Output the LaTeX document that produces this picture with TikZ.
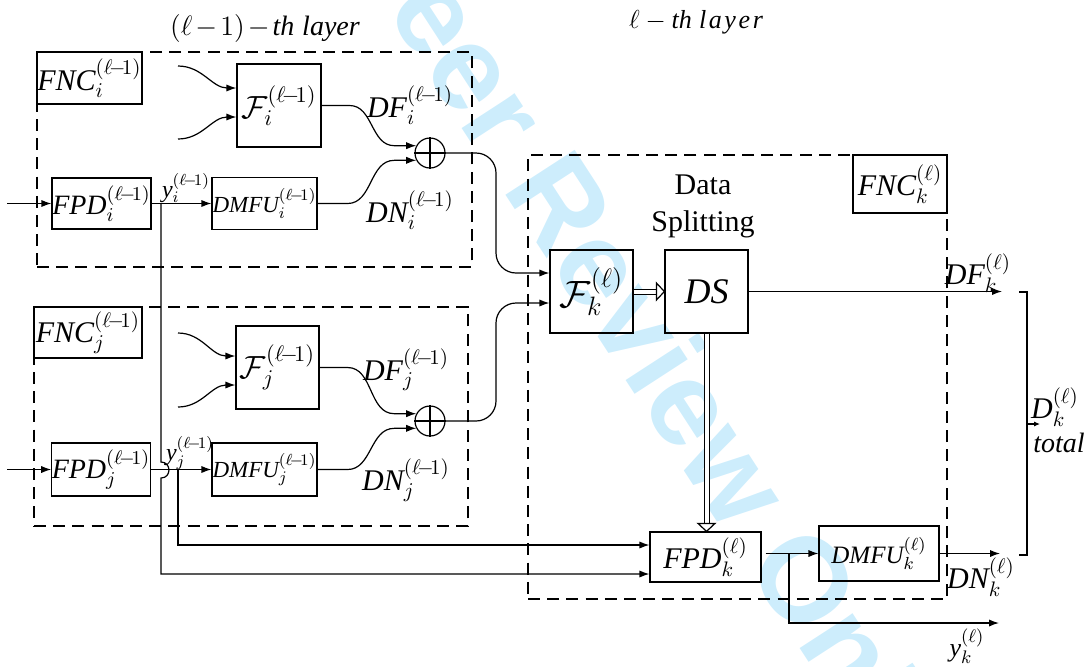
\RequirePackage{fix-cm}
\documentclass[tikz,border=0pt]{standalone}
\usepackage{fontspec}
\setmainfont{Liberation Serif}
\setsansfont{Liberation Sans}
\usetikzlibrary{arrows.meta,calc}
\definecolor{wm}{RGB}{205,237,252}
\newcommand\fsz[1]{\fontsize{#1}{#1}\selectfont}
\newcommand\lmo{(\ell\mkern-3mu-\mkern-3mu1)}
\begin{document}
\begin{tikzpicture}[x=0.5pt,y=-0.5pt,
  blk/.style={draw, line width=0.6pt, inner sep=0pt},
  lay/.style={draw, line width=1pt, dash pattern=on 6pt off 3.6pt, inner sep=0pt},
  fnc/.style={draw, line width=1.1pt, inner sep=0pt, fill=white, font=\fsz{15}},
  wire/.style={line width=0.6pt},
  arw/.style={wire, -{Latex[length=5pt,width=3.6pt]}},
  dbl/.style={line width=0.5pt, double, double distance=2pt},
  opl/.style={circle, draw, line width=0.6pt, minimum size=15pt, inner sep=0pt},
  lab/.style={inner sep=0pt, font=\fsz{15}}]
\useasboundingbox (0,0) rectangle (1091,666);
% watermark
\node[rotate=-57, text=wm, font=\sffamily\bfseries\fsz{60}] (wmark) at (642,348) {Peer Review Only};
% layer frames
\node[lay, minimum width=217.5pt, minimum height=107.5pt] (layI) at (254.5,159.5) {};
\node[lay, minimum width=217pt, minimum height=109.5pt] (layJ) at (251,416.5) {};
\node[lay, minimum width=209.5pt, minimum height=222pt] (layK) at (737.5,377) {};
\node[fnc, minimum width=52.5pt, minimum height=26pt] (fncI) at (89.5,78) {$\mathit{FNC}_i^{\lmo}$};
\node[fnc, minimum width=54pt, minimum height=25.5pt] (fncJ) at (88,332.5) {$\mathit{FNC}_j^{\lmo}$};
\node[fnc, minimum width=47pt, minimum height=29pt] (fncK) at (900,184) {$\mathit{FNC}_k^{(\ell)}$};
% blocks layer i
\node[blk, minimum width=42pt, minimum height=41.5pt, font=\fsz{16}] (FI) at (279,105.5) {$\mathcal{F}_i^{\lmo}$};
\node[blk, minimum width=49.5pt, minimum height=25.5pt, font=\fsz{14}] (FPDI) at (101.5,203.5) {$\mathit{FPD}_i^{\lmo}$};
\node[blk, minimum width=52.5pt, minimum height=26pt, font=\fsz{11.5}] (DMFUI) at (264.5,203.5) {$\mathit{DMFU}_i^{\lmo}$};
\node[opl] (oplusI) at (430,153) {};
% blocks layer j
\node[blk, minimum width=41.5pt, minimum height=41.5pt, font=\fsz{16}] (FJ) at (277.5,367.5) {$\mathcal{F}_j^{\lmo}$};
\node[blk, minimum width=49pt, minimum height=26.5pt, font=\fsz{14}] (FPDJ) at (101,469.5) {$\mathit{FPD}_j^{\lmo}$};
\node[blk, minimum width=52.5pt, minimum height=26.5pt, font=\fsz{11.5}] (DMFUJ) at (264.5,469.5) {$\mathit{DMFU}_j^{\lmo}$};
\node[opl] (oplusJ) at (430,421) {};
% blocks layer k
\node[blk, minimum width=41.5pt, minimum height=41.5pt, font=\fsz{19}] (FK) at (591.5,291.5) {$\mathcal{F}_k^{(\ell)}$};
\node[blk, minimum width=41.5pt, minimum height=41.5pt, font=\fsz{18}] (DS) at (706.5,291.5) {$\mathit{DS}$};
\node[blk, minimum width=55.5pt, minimum height=25pt, font=\fsz{15}] (FPDK) at (705.5,557) {$\mathit{FPD}_k^{(\ell)}$};
\node[blk, minimum width=60pt, minimum height=27.5pt, font=\fsz{12.5}] (DMFUK) at (879,553.5) {$\mathit{DMFU}_k^{(\ell)}$};
% oplus crosses
\foreach \o in {oplusI,oplusJ}{
  \draw[wire] (\o.north) -- (\o.south) (\o.west) -- (\o.east);}
% labels
\node[lab, font=\fsz{14}] (tI) at (265,28) {$\bigl(\ell\mkern-2mu-\mkern-2mu1\bigr)\mkern-2mu-\mkern-2mu\mathit{th}$\;\textit{layer}};
\node[lab, font=\fsz{13}] (tK) at (696,22) {$\ell-\mathit{th}$\;{\itshape\addfontfeatures{LetterSpace=10}layer}};
\node[lab] (lDFI) at (410,105) {$\mathit{DF}_i^{\lmo}$};
\node[lab] (lDNI) at (410,210) {$\mathit{DN}_i^{\lmo}$};
\node[lab] (lDFJ) at (406,370) {$\mathit{DF}_j^{\lmo}$};
\node[lab] (lDNJ) at (406,480) {$\mathit{DN}_j^{\lmo}$};
\node[lab, font=\fsz{12}] (lyI) at (186,188) {$\mathit{y}_i^{\lmo}$};
\node[lab, font=\fsz{12}] (lyJ) at (190,453) {$\mathit{y}_j^{\lmo}$};
\node[lab, align=center, font=\fontsize{15}{18.5}\selectfont] (ldata) at (703,206) {Data\\Splitting};
\node[lab] (lDFK) at (978,273) {$\mathit{DF}_k^{(\ell)}$};
\node[lab] (lDNK) at (981,577) {$\mathit{DN}_k^{(\ell)}$};
\node[lab, font=\fsz{13}] (lyK) at (967,646) {$\mathit{y}_k^{(\ell)}$};
\node[lab] (lDk) at (1055,407) {$\mathit{D}_k^{(\ell)}$};
\node[lab, font=\fsz{14}] (ltot) at (1059,443) {\itshape total};
% connectors layer i
\coordinate (inI) at (7,203.5);
\coordinate (sI1) at (178,66);
\coordinate (sI2) at (178,139);
\draw[arw] (inI) -- (FPDI.west);
\draw[arw] (sI1) to[out=0,in=180] ($(FI.west)+(0,-17.5)$);
\draw[arw] (sI2) to[out=0,in=180] ($(FI.west)+(0,11.5)$);
\draw[arw] (FI.east) -- ++(28,0) to[out=0,in=180] ($(oplusI.152)+(-22,0)$) -- (oplusI.152);
\draw[arw] (DMFUI.east) -- ++(30,0) to[out=0,in=180] ($(oplusI.208)+(-22,0)$) -- (oplusI.208);
\draw[arw] (FPDI.east) -- (DMFUI.west);
\draw[arw, rounded corners=10pt] (oplusI.east) -- (496,153) -- (496,273) -- ($(FK.west)+(0,-18.5)$);
% connectors layer j
\coordinate (inJ) at (7,469.5);
\coordinate (sJ1) at (178,333);
\coordinate (sJ2) at (178,407);
\draw[arw] (inJ) -- (FPDJ.west);
\draw[arw] (sJ1) to[out=0,in=180] ($(FJ.west)+(0,-11.5)$);
\draw[arw] (sJ2) to[out=0,in=180] ($(FJ.west)+(0,17.5)$);
\draw[arw] (FJ.east) -- ++(28,0) to[out=0,in=180] ($(oplusJ.152)+(-22,0)$) -- (oplusJ.152);
\draw[arw] (DMFUJ.east) -- ++(30,0) to[out=0,in=180] ($(oplusJ.208)+(-22,0)$) -- (oplusJ.208);
\draw[arw] (FPDJ.east) -- (DMFUJ.west);
\draw[arw, rounded corners=10pt] (oplusJ.east) -- (496,421) -- (496,303) -- ($(FK.west)+(0,11.5)$);
% feedback y lines
\coordinate (brI) at (161,203.5);
\coordinate (brJ) at (178,469.5);
\draw[arw] (brI) -- (161,462) to[out=0,in=0,looseness=1.7] (161,478) -- (161,574) -- ($(FPDK.west)+(0,17)$);
\draw[arw] (brJ) -- (178,545) -- ($(FPDK.west)+(0,-12)$);
% layer k
\draw[dbl] (FK.east) -- ($(DS.west)+(-8,0)$);
\draw[wire, fill=white] ($(DS.west)+(-8,-8.5)$) -- (DS.west) -- ($(DS.west)+(-8,8.5)$) -- cycle;
\coordinate (dsin) at (DS.south |- FPDK.north);
\draw[dbl] (DS.south) -- ($(dsin)+(0,-8)$);
\draw[wire, fill=white] ($(dsin)+(-8.5,-8)$) -- (dsin) -- ($(dsin)+(8.5,-8)$) -- cycle;
\coordinate (dfk) at (1002,291.5);
\draw[arw] (DS.east) -- (dfk);
\coordinate (fkout) at ($(FPDK.east |- DMFUK.west)+(4,0)$);
\draw[arw] (fkout) -- (DMFUK.west);
\coordinate (brK) at (789,553.5);
\coordinate (ykend) at (999,623);
\draw[arw] (brK) |- (ykend);
\coordinate (dnk) at (1000,553.5);
\draw[arw] (DMFUK.east) -- (dnk);
% bracket
\coordinate (bt) at (1019,292);
\coordinate (bb) at (1019,555);
\draw[wire] (bt) -- (1027,292) -- (1027,555) -- (bb);
\coordinate (bm) at (1027,424);
\coordinate (bmend) at (1040,424);
\draw[wire, -{Latex[length=3pt,width=2.6pt]}] (bm) -- (bmend);
\end{tikzpicture}
\end{document}
